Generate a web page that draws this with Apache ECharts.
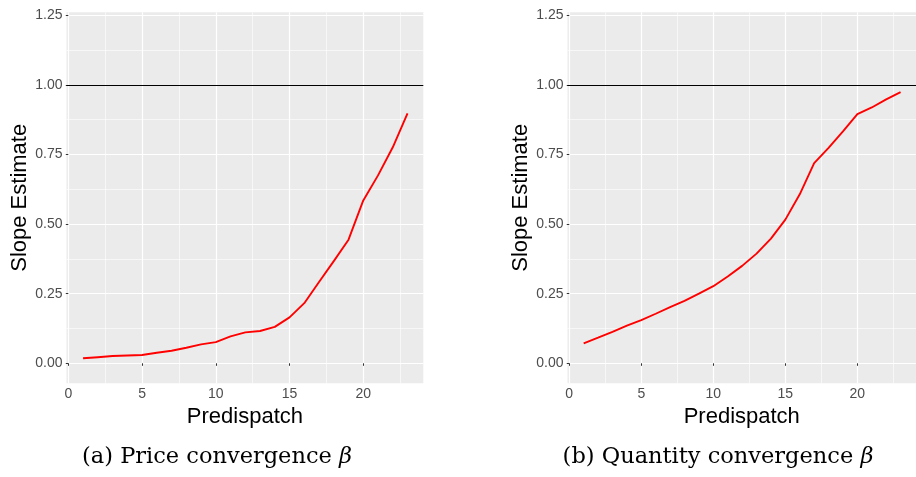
<!DOCTYPE html>
<html>
<head>
<meta charset="utf-8">
<script src="https://cdn.jsdelivr.net/npm/echarts@6/dist/echarts.min.js"></script>
<style>
  html, body { margin: 0; padding: 0; background: #fff; }
  #chart { width: 916px; height: 477px; }
</style>
</head>
<body>
<div id="chart"></div>
<script>
// predispatch horizon (x)
var predispatch = [1, 2, 3, 4, 5, 6, 7, 8, 9, 10, 11, 12, 13, 14, 15, 16, 17, 18, 19, 20, 21, 22, 23];
// slope estimates
var priceSlope = [0.018, 0.022, 0.026, 0.028, 0.030, 0.038, 0.045, 0.056, 0.068, 0.076, 0.097, 0.111,
                  0.116, 0.131, 0.165, 0.216, 0.292, 0.367, 0.444, 0.585, 0.675, 0.776, 0.898];
var quantitySlope = [0.072, 0.092, 0.113, 0.135, 0.155, 0.178, 0.202, 0.224, 0.250, 0.277, 0.312, 0.350,
                     0.394, 0.448, 0.516, 0.607, 0.719, 0.774, 0.833, 0.895, 0.919, 0.948, 0.974];
// ticks
var xTicks = [0, 5, 10, 15, 20];
var xMinor = [2.5, 7.5, 12.5, 17.5, 22.5];
var yTicks = [0, 0.25, 0.5, 0.75, 1.0, 1.25];
var yMinor = [0.125, 0.375, 0.625, 0.875, 1.125];
var refLine = 1;
var captions = ['(a) Price convergence ', '(b) Quantity convergence '];

var chart = echarts.init(document.getElementById('chart'));

var xRange = [-0.122, 24.07];
var yRange = [-0.0718, 1.2608];
var sans = 'Liberation Sans, Arial, sans-serif';

function xAxes(gi) {
  return [{
    type: 'value', gridIndex: gi, min: xRange[0], max: xRange[1], position: 'bottom',
    name: 'Predispatch', nameLocation: 'middle', nameGap: 17,
    nameTextStyle: { fontFamily: sans, fontSize: 22, color: '#000' },
    axisLine: { show: false },
    axisTick: { show: true, length: 2.5, customValues: xTicks, lineStyle: { color: '#333', width: 1 } },
    axisLabel: { customValues: xTicks, margin: 4, fontFamily: sans, fontSize: 14, color: '#4d4d4d' },
    splitLine: { show: true, lineStyle: { color: '#fff', width: 1.2 } }
  }, {
    type: 'value', gridIndex: gi, min: xRange[0], max: xRange[1], position: 'top',
    axisLine: { show: false },
    axisTick: { show: false, customValues: xMinor },
    axisLabel: { show: false },
    splitLine: { show: true, lineStyle: { color: '#fff', width: 0.6 } }
  }];
}

function yAxes(gi) {
  return [{
    type: 'value', gridIndex: gi, min: yRange[0], max: yRange[1], position: 'left',
    name: 'Slope Estimate', nameLocation: 'middle', nameGap: 36,
    nameTextStyle: { fontFamily: sans, fontSize: 22, color: '#000' },
    axisLine: { show: false },
    axisTick: { show: true, length: 2.5, customValues: yTicks, lineStyle: { color: '#333', width: 1 } },
    axisLabel: {
      customValues: yTicks, margin: 4, fontFamily: sans, fontSize: 14, color: '#4d4d4d',
      formatter: function (v) { return v.toFixed(2); }
    },
    splitLine: { show: true, lineStyle: { color: '#fff', width: 1.2 } }
  }, {
    type: 'value', gridIndex: gi, min: yRange[0], max: yRange[1], position: 'right',
    axisLine: { show: false },
    axisTick: { show: false, customValues: yMinor },
    axisLabel: { show: false },
    splitLine: { show: true, lineStyle: { color: '#fff', width: 0.6 } }
  }];
}

function lineSeries(gi, values) {
  return {
    type: 'line',
    xAxisIndex: gi * 2, yAxisIndex: gi * 2,
    data: predispatch.map(function (x, i) { return [x, values[i]]; }),
    showSymbol: false, symbol: 'none', smooth: false,
    lineStyle: { color: '#ff0000', width: 1.9 },
    z: 3,
    markLine: {
      silent: true, symbol: 'none', animation: false,
      label: { show: false },
      lineStyle: { color: '#000', width: 1, type: 'solid' },
      data: [{ yAxis: refLine }]
    }
  };
}

function caption(cx, txt) {
  return {
    type: 'text', x: cx, y: 457,
    style: {
      text: '{n|' + txt + '}{g|β}',
      textAlign: 'center', textVerticalAlign: 'middle',
      rich: {
        n: { fontFamily: 'DejaVu Serif', fontSize: 22.5, color: '#000' },
        g: { fontFamily: 'DejaVu Serif', fontStyle: 'italic', fontSize: 22.5, color: '#000' }
      }
    }
  };
}

var option = {
  animation: false,
  backgroundColor: '#fff',
  grid: [
    { left: 66.5, top: 12.3, width: 356.8, height: 371, show: true, backgroundColor: '#ebebeb', borderWidth: 0 },
    { left: 567.5, top: 12.3, width: 356.8, height: 371, show: true, backgroundColor: '#ebebeb', borderWidth: 0 }
  ],
  xAxis: xAxes(0).concat(xAxes(1)),
  yAxis: yAxes(0).concat(yAxes(1)),
  series: [lineSeries(0, priceSlope), lineSeries(1, quantitySlope)],
  graphic: [caption(217, captions[0]), caption(718, captions[1])]
};

chart.setOption(option);
</script>
</body>
</html>
